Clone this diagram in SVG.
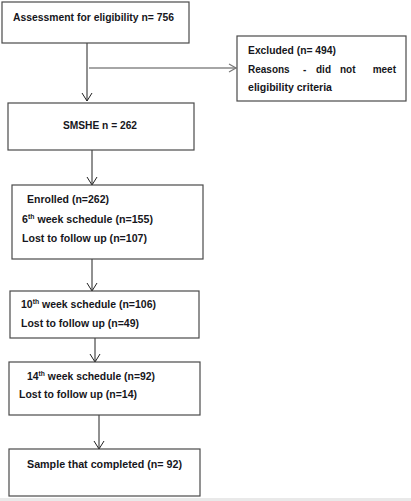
<svg xmlns="http://www.w3.org/2000/svg" width="411" height="501" viewBox="0 0 411 501">
<style>
.box{fill:#fff;stroke:#4a4a4a;stroke-width:1.2}
.t{font-family:"Liberation Sans",Arial,sans-serif;font-weight:bold;font-size:10px;fill:#161620}
.sup{font-size:6.5px}
.ln{stroke:#222;stroke-width:1;fill:none}
.gl{stroke:#888;stroke-width:1.6;fill:none}
</style>
<defs>
<marker id="ah" markerWidth="12" markerHeight="12" refX="9" refY="6" orient="auto" markerUnits="userSpaceOnUse">
<path d="M1,1 L9,6 L1,11" fill="none" stroke="#222" stroke-width="1"/>
</marker>
<marker id="ahg" markerWidth="12" markerHeight="12" refX="9" refY="6" orient="auto" markerUnits="userSpaceOnUse">
<path d="M2,2 L9,6 L2,10" fill="none" stroke="#777" stroke-width="1.2"/>
</marker>
</defs>
<rect x="0" y="0" width="411" height="501" fill="#fff"/>
<rect x="0" y="498" width="411" height="3" fill="#e9e9e9"/>

<g id="connectors">
<path class="ln" d="M87,43 V101" marker-end="url(#ah)"/>
<path class="gl" d="M89,68 H236" marker-end="url(#ahg)"/>
<path class="ln" d="M92,150 V185" marker-end="url(#ah)"/>
<path class="ln" d="M92,259 V291" marker-end="url(#ah)"/>
<path class="ln" d="M95,338 V362" marker-end="url(#ah)"/>
<path class="ln" d="M99,415 V449" marker-end="url(#ah)"/>
</g>

<g id="assessment">
<rect class="box" x="2" y="2" width="187" height="41"/>
<text class="t" x="13" y="21" textLength="161" lengthAdjust="spacingAndGlyphs">Assessment for eligibility n= 756</text>
</g>

<g id="excluded">
<rect class="box" x="237" y="36" width="169" height="65"/>
<text class="t" x="248" y="54" textLength="88" lengthAdjust="spacingAndGlyphs">Excluded (n= 494)</text>
<text class="t" x="248" y="73">Reasons</text>
<text class="t" x="303" y="73">-</text>
<text class="t" x="316" y="73">did</text>
<text class="t" x="340" y="73">not</text>
<text class="t" x="396" y="73" text-anchor="end">meet</text>
<text class="t" x="248" y="91" textLength="84" lengthAdjust="spacingAndGlyphs">eligibility criteria</text>
</g>

<g id="smshe">
<rect class="box" x="8" y="103" width="186" height="47"/>
<text class="t" x="63" y="129" textLength="74" lengthAdjust="spacingAndGlyphs">SMSHE n = 262</text>
</g>

<g id="enrolled">
<rect class="box" x="12" y="185" width="191" height="74"/>
<text class="t" x="27" y="203" textLength="82" lengthAdjust="spacingAndGlyphs">Enrolled (n=262)</text>
<text class="t" x="22" y="223" textLength="131" lengthAdjust="spacingAndGlyphs">6<tspan class="sup" dy="-4">th</tspan><tspan dy="4"> week schedule (n=155)</tspan></text>
<text class="t" x="22" y="242" textLength="125" lengthAdjust="spacingAndGlyphs">Lost to follow up (n=107)</text>
</g>

<g id="week10">
<rect class="box" x="10" y="291" width="189" height="47"/>
<text class="t" x="21" y="308" textLength="135" lengthAdjust="spacingAndGlyphs">10<tspan class="sup" dy="-4">th</tspan><tspan dy="4"> week schedule (n=106)</tspan></text>
<text class="t" x="21" y="327" textLength="118" lengthAdjust="spacingAndGlyphs">Lost to follow up (n=49)</text>
</g>

<g id="week14">
<rect class="box" x="9" y="362" width="191" height="53"/>
<text class="t" x="27" y="380" textLength="128" lengthAdjust="spacingAndGlyphs">14<tspan class="sup" dy="-4">th</tspan><tspan dy="4"> week schedule (n=92)</tspan></text>
<text class="t" x="19" y="398" textLength="118" lengthAdjust="spacingAndGlyphs">Lost to follow up (n=14)</text>
</g>

<g id="sample">
<rect class="box" x="9" y="449" width="191" height="47"/>
<text class="t" x="27" y="468" textLength="155" lengthAdjust="spacingAndGlyphs">Sample that completed (n= 92)</text>
</g>
</svg>
